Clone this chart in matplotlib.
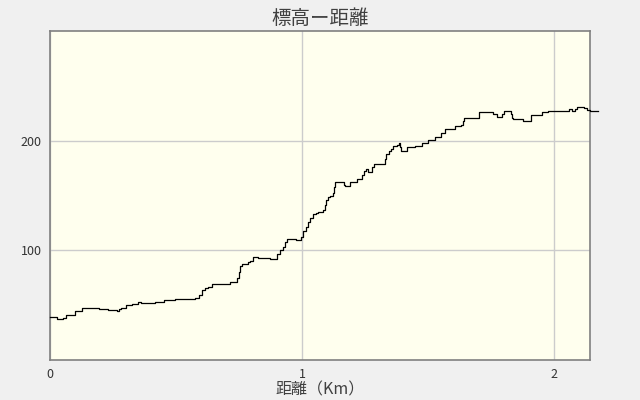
import matplotlib
matplotlib.use("Agg")
import matplotlib.pyplot as plt

plt.rcParams['font.family'] = ['Noto Sans CJK JP', 'DejaVu Sans']

# distance (km) / elevation (m)
dist_km = [0.000, 0.028, 0.052, 0.063, 0.099, 0.127, 0.159, 0.194, 0.230, 0.266,
           0.274, 0.282, 0.302, 0.325, 0.349, 0.361, 0.417, 0.452, 0.496, 0.536,
           0.575, 0.591, 0.603, 0.615, 0.627, 0.643, 0.714, 0.742, 0.750, 0.754,
           0.762, 0.786, 0.794, 0.806, 0.825, 0.873, 0.901, 0.913, 0.925, 0.933,
           0.940, 0.944, 0.976, 0.996, 1.004, 1.016, 1.024, 1.032, 1.044, 1.056,
           1.063, 1.083, 1.091, 1.095, 1.103, 1.111, 1.123, 1.127, 1.131, 1.159,
           1.167, 1.171, 1.190, 1.218, 1.238, 1.246, 1.254, 1.262, 1.278, 1.286,
           1.329, 1.333, 1.345, 1.353, 1.361, 1.377, 1.385, 1.389, 1.393, 1.417,
           1.429, 1.448, 1.476, 1.500, 1.528, 1.552, 1.567, 1.607, 1.631, 1.639,
           1.643, 1.702, 1.758, 1.774, 1.794, 1.802, 1.829, 1.833, 1.837, 1.877,
           1.909, 1.952, 1.976, 2.060, 2.071, 2.083, 2.091, 2.119, 2.131, 2.143,
           2.175]
elev_m = [38.8, 37.0, 38.2, 40.9, 44.3, 47.0, 47.5, 46.6, 45.2, 44.3,
          46.4, 47.5, 50.0, 51.5, 53.0, 51.8, 52.5, 54.8, 55.7, 55.2,
          56.4, 59.1, 63.6, 65.5, 66.4, 69.1, 71.2, 75.2, 80.0, 85.5,
          87.3, 89.1, 90.3, 93.9, 92.7, 91.8, 96.4, 100.0, 102.7, 107.3,
          110.0, 110.6, 109.7, 112.1, 117.3, 120.9, 125.5, 129.7, 132.7, 133.6,
          134.8, 137.0, 140.9, 145.5, 148.2, 150.0, 152.3, 158.2, 162.5, 162.7,
          160.0, 159.1, 162.7, 165.2, 168.8, 172.7, 174.3, 171.8, 176.4, 178.8,
          183.6, 187.9, 190.9, 192.7, 194.8, 196.4, 197.9, 194.5, 190.9, 194.1,
          194.5, 194.8, 197.9, 200.9, 203.6, 207.0, 210.6, 213.0, 214.5, 218.2,
          220.3, 226.4, 224.3, 221.8, 224.5, 227.0, 224.5, 220.6, 219.7, 218.2,
          223.4, 226.1, 227.5, 228.8, 227.3, 229.1, 230.3, 230.0, 228.2, 227.3,
          227.3]

x_ticks = [0, 1, 2]
y_ticks = [100, 200]

fig = plt.figure(figsize=(6.4, 4.0), dpi=100, facecolor='#f0f0f0')
ax = fig.add_axes([50 / 640, 40 / 400, 540 / 640, 329 / 400])
ax.set_facecolor('#ffffee')

ax.plot(dist_km, elev_m, color='black', lw=0.9, drawstyle='steps-post', clip_on=False, zorder=3)

ax.set_xlim(0, 2.143)
ax.set_ylim(0, 300)
ax.set_xticks(x_ticks)
ax.set_yticks(y_ticks)
ax.grid(True, color='#cccccc', lw=1.0)
ax.set_axisbelow(True)
ax.tick_params(length=0, labelsize=9, labelcolor='#333333', pad=6)

for s in ax.spines.values():
    s.set_color('#808080')
    s.set_linewidth(1.2)

ax.set_title('標高ー距離', fontsize=14, color='#404040', pad=5)
ax.set_xlabel('距離（Km）', fontsize=11.5, color='#404040', labelpad=0)

fig.savefig('out.png', dpi=100, facecolor=fig.get_facecolor())
